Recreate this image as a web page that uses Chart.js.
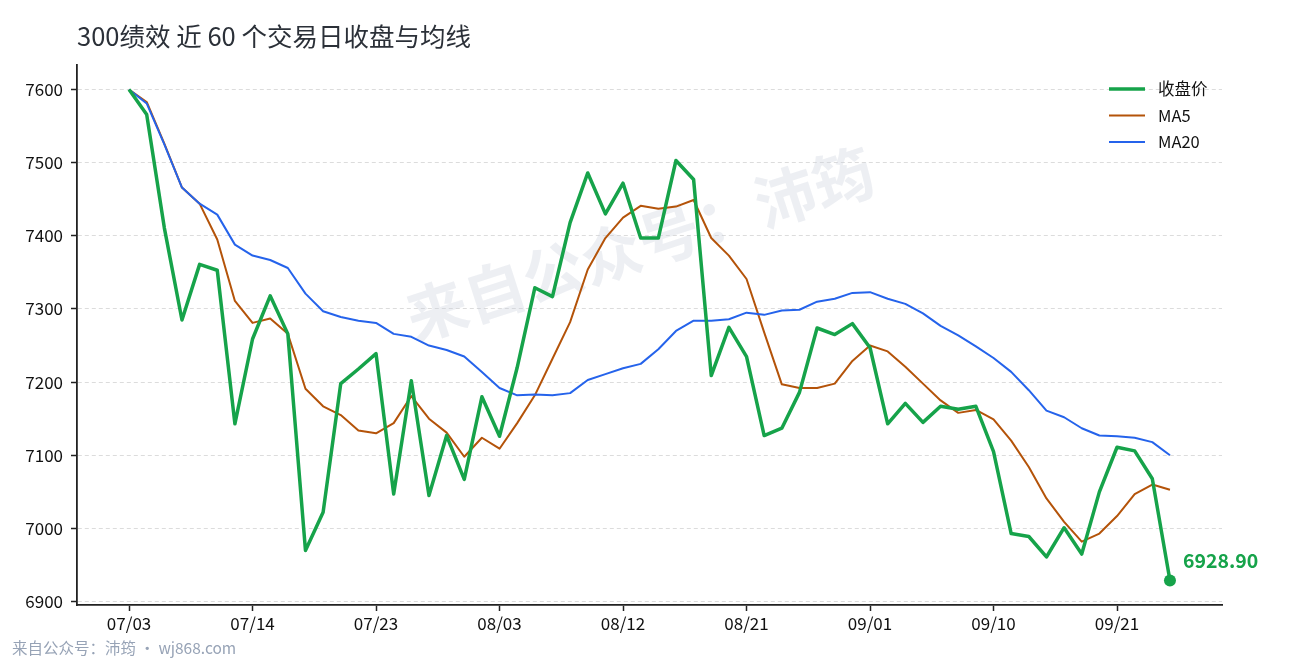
<!DOCTYPE html>
<html>
<head>
<meta charset="utf-8">
<script src="https://cdn.jsdelivr.net/npm/chart.js@4.4.1/dist/chart.umd.min.js"></script>
<style>
  html, body { margin: 0; padding: 0; background: #fff; }
  #wrap { width: 1290px; height: 660px; }
</style>
</head>
<body>
<div id="wrap"><canvas id="myChart" width="1290" height="660"></canvas></div>
<script>
const FONT = '"Noto Sans CJK SC", "Noto Sans", sans-serif';

const dates = [
  '07/03','07/04','07/07','07/08','07/09','07/10','07/11','07/14',
  '07/15','07/16','07/17','07/18','07/21','07/22','07/23',
  '07/24','07/25','07/28','07/29','07/30','07/31','08/03',
  '08/04','08/05','08/06','08/07','08/08','08/11','08/12',
  '08/13','08/14','08/15','08/18','08/19','08/20','08/21',
  '08/22','08/25','08/26','08/27','08/28','08/29','09/01',
  '09/02','09/03','09/04','09/05','09/08','09/09','09/10',
  '09/11','09/12','09/15','09/16','09/17','09/18','09/21',
  '09/22','09/23','09/24'
];
const tickIndex = [0, 7, 14, 21, 28, 35, 42, 49, 56];
const yTicks = [6900, 7000, 7100, 7200, 7300, 7400, 7500, 7600];

const close = [
  7600, 7566, 7411, 7285, 7361, 7353, 7143, 7259, 7318, 7266,
  6970, 7022, 7198, 7218, 7239, 7047, 7202, 7045, 7127, 7067,
  7180, 7126, 7220, 7329, 7317, 7418, 7486, 7430, 7472, 7397,
  7397, 7503, 7477, 7209, 7275, 7235, 7127, 7137, 7186, 7274,
  7265, 7280, 7247, 7143, 7171, 7145, 7167, 7163, 7167, 7105,
  6993, 6989, 6961, 7001, 6965, 7050, 7111, 7106, 7068, 6928.9
];
const ma5 = [
  7600, 7583, 7526, 7466, 7444, 7395, 7311, 7281, 7287, 7266,
  7191, 7167, 7155, 7134, 7130, 7144, 7181, 7150, 7131, 7098,
  7124, 7109, 7144, 7182, 7232, 7282, 7354, 7397, 7425, 7441,
  7437, 7440, 7449, 7397, 7373, 7341, 7268, 7197, 7192, 7192,
  7198, 7229, 7250, 7242, 7221, 7198, 7175, 7158, 7162, 7149,
  7120, 7084, 7041, 7009, 6982, 6993, 7017, 7047, 7060, 7053
];
const ma20 = [
  7600, 7581, 7525, 7466, 7444, 7429, 7388, 7373, 7367, 7356,
  7321, 7297, 7289, 7284, 7281, 7266, 7262, 7250, 7244, 7235,
  7214, 7192, 7182, 7183, 7182, 7185, 7203, 7211, 7219, 7225,
  7245, 7270, 7284, 7284, 7286, 7295, 7292, 7298, 7299, 7310,
  7314, 7322, 7323, 7314, 7307, 7294, 7277, 7264, 7249, 7233,
  7214, 7189, 7161, 7152, 7137, 7127, 7126, 7124, 7118, 7100
];

const GREEN = '#16a34a', ORANGE = '#b45309', BLUE = '#2563eb';
const last = close.length - 1;

function pts(arr) { return arr.map((v, i) => ({x: i, y: v})); }

// title, footer, watermark, legend, last value label
const extras = {
  id: 'extras',
  beforeDatasetsDraw(chart) {
    const ctx = chart.ctx;
    ctx.save();
    ctx.translate(640, 244);
    ctx.rotate(-18 * Math.PI / 180);
    ctx.font = 'bold 61px ' + FONT;
    ctx.fillStyle = 'rgba(203,208,220,0.35)';
    ctx.textAlign = 'center';
    ctx.textBaseline = 'middle';
    ctx.fillText('来自公众号：沛筠', 0, 0);
    ctx.restore();
  },
  afterDraw(chart) {
    const ctx = chart.ctx;
    const xs = chart.scales.x, ys = chart.scales.y;
    ctx.save();
    ctx.textBaseline = 'middle';
    ctx.textAlign = 'left';
    ctx.font = '25.5px ' + FONT;
    ctx.fillStyle = '#2b3038';
    ctx.fillText('300绩效 近 60 个交易日收盘与均线', 77, 36);

    ctx.font = '15.5px ' + FONT;
    ctx.fillStyle = '#97a3b6';
    ctx.fillText('来自公众号：沛筠 · wj868.com', 12, 648);

    const items = [
      {label: '收盘价', color: GREEN, w: 3.5},
      {label: 'MA5', color: ORANGE, w: 2},
      {label: 'MA20', color: BLUE, w: 2}
    ];
    ctx.font = '16.5px ' + FONT;
    items.forEach((it, k) => {
      const y = 89 + k * 26.5;
      ctx.strokeStyle = it.color;
      ctx.lineWidth = it.w;
      ctx.beginPath();
      ctx.moveTo(1109, y);
      ctx.lineTo(1145, y);
      ctx.stroke();
      ctx.fillStyle = '#111';
      ctx.fillText(it.label, 1158, y);
    });

    const px = xs.getPixelForValue(last), py = ys.getPixelForValue(close[last]);
    ctx.font = 'bold 19.5px ' + FONT;
    ctx.fillStyle = GREEN;
    ctx.fillText(close[last].toFixed(2), px + 13, py - 20);
    ctx.restore();
  }
};

new Chart(document.getElementById('myChart'), {
  type: 'line',
  data: {
    datasets: [
      {
        label: '收盘价',
        data: pts(close),
        borderColor: GREEN,
        backgroundColor: GREEN,
        borderWidth: 3.5,
        borderJoinStyle: 'round',
        tension: 0,
        order: 0,
        pointRadius: ctx => ctx.dataIndex === last ? 6 : 0,
        pointBackgroundColor: GREEN,
        pointBorderWidth: 0
      },
      {
        label: 'MA5',
        data: pts(ma5),
        borderColor: ORANGE,
        borderWidth: 2,
        borderJoinStyle: 'round',
        tension: 0,
        order: 2,
        pointRadius: 0
      },
      {
        label: 'MA20',
        data: pts(ma20),
        borderColor: BLUE,
        borderWidth: 2,
        borderJoinStyle: 'round',
        tension: 0,
        order: 1,
        pointRadius: 0
      }
    ]
  },
  options: {
    responsive: false,
    animation: false,
    devicePixelRatio: 1,
    layout: { padding: { top: 65, right: 68, left: 0, bottom: 0 } },
    plugins: {
      legend: { display: false },
      tooltip: { enabled: false },
      title: { display: false }
    },
    scales: {
      x: {
        type: 'linear',
        min: -2.95,
        max: 61.95,
        afterBuildTicks: s => { s.ticks = tickIndex.map(v => ({value: v})); },
        afterFit: s => { s.height = 55; },
        ticks: {
          callback: v => dates[v] || '',
          font: { family: FONT, size: 17 },
          color: '#111',
          padding: 2,
          maxRotation: 0,
          autoSkip: false
        },
        grid: {
          drawOnChartArea: false,
          drawTicks: true,
          tickLength: 6,
          tickColor: '#222',
          tickWidth: 1.5
        },
        border: { display: true, color: '#222', width: 1.8 }
      },
      y: {
        min: 6895.35,
        max: 7633.55,
        afterBuildTicks: s => { s.ticks = yTicks.map(v => ({value: v})); },
        afterFit: s => { s.width = 77; },
        ticks: {
          callback: v => String(v),
          font: { family: FONT, size: 17 },
          color: '#111',
          padding: 8
        },
        grid: {
          color: '#dcdcdc',
          lineWidth: 1,
          drawTicks: true,
          tickLength: 6,
          tickColor: '#222',
          tickWidth: 1.5
        },
        border: { display: true, color: '#222', width: 1.8, dash: [4, 3] }
      }
    }
  },
  plugins: [extras]
});
</script>
</body>
</html>
